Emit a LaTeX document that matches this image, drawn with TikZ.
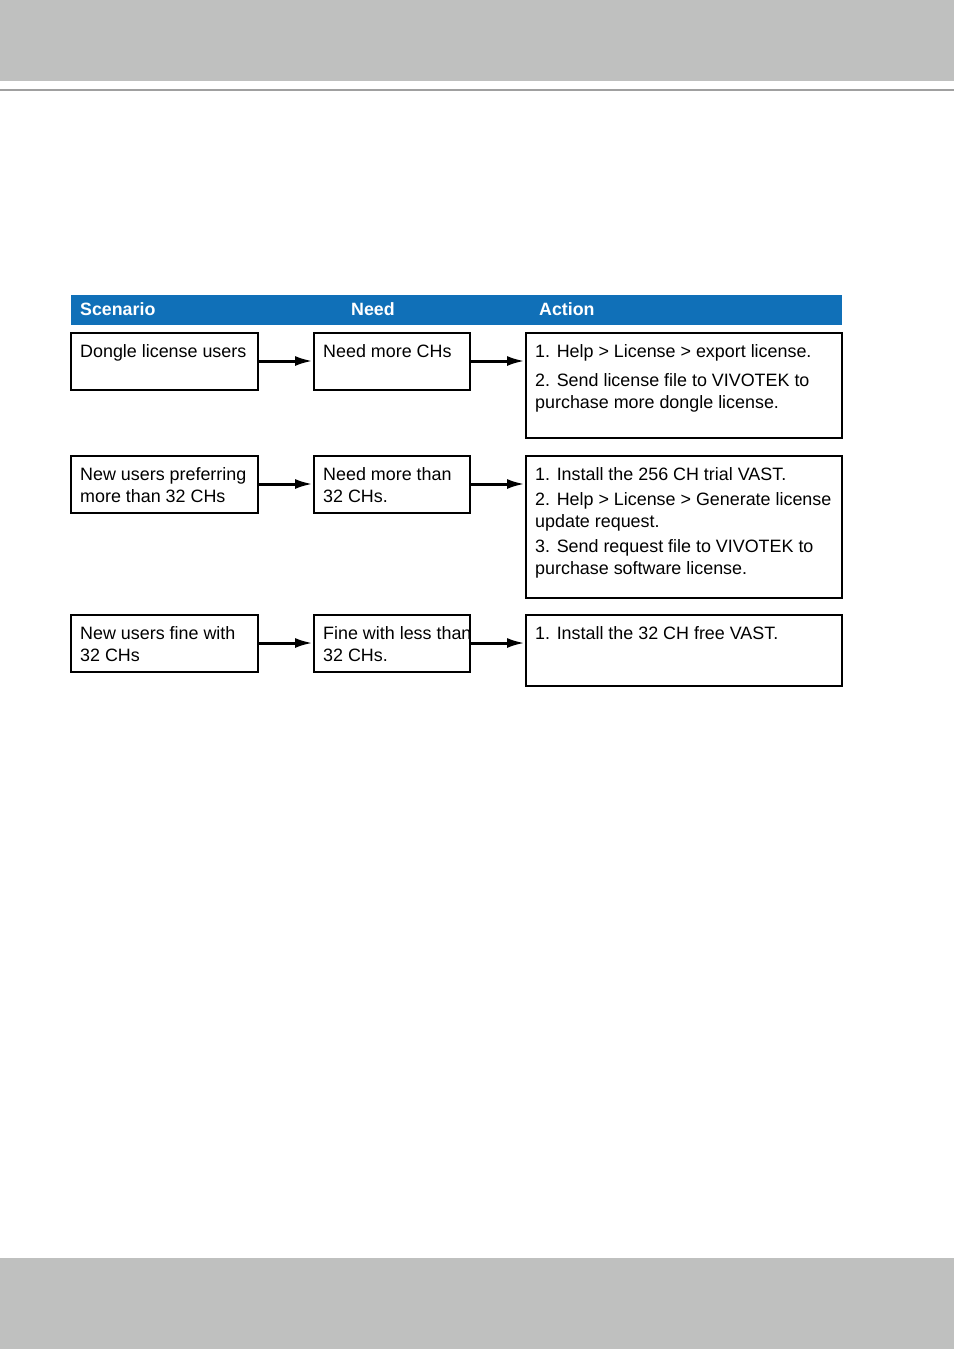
\documentclass[tikz,border=0pt]{standalone}
\usepackage{fontspec}
\setmainfont{Liberation Sans}
\usetikzlibrary{arrows.meta}
\definecolor{barGray}{HTML}{BFC0BF}
\definecolor{lineGray}{HTML}{A0A0A0}
\definecolor{headBlue}{HTML}{1070B8}
\tikzset{
  cell/.style={draw=black, line width=1.5pt, inner sep=0pt, outer sep=0pt},
  txt/.style={anchor=base west, inner sep=0pt, font=\fontsize{17.9}{22}\selectfont},
  hd/.style={anchor=base west, inner sep=0pt, text=white, font=\fontsize{17.8}{22}\selectfont\bfseries},
  link/.style={draw=black, line width=3pt, -{Latex[length=18pt,width=10pt]}, shorten >=1pt}
}
\begin{document}
\begin{tikzpicture}[x=1pt,y=-1pt]
\useasboundingbox (0,0) rectangle (954,1349);
% page bars
\fill[barGray] (0,0) rectangle (954,81);
\fill[lineGray] (0,89) rectangle (954,91);
\fill[barGray] (0,1258) rectangle (954,1349);
% header
\fill[headBlue] (71,295) rectangle (842,325);
\node[hd] (hS) at (80,315) {Scenario};
\node[hd] (hN) at (351,315) {Need};
\node[hd] (hA) at (539,315) {Action};
% row 1
\path[cell] (71,333) rectangle (258,390) node[pos=0.5] (s1) {};
\path[cell] (314,333) rectangle (470,390) node[pos=0.5] (n1) {};
\path[cell] (526,333) rectangle (842,438) node[pos=0.5] (a1) {};
\coordinate (s1e) at (258,361); \coordinate (n1w) at (314,361);
\coordinate (n1e) at (470,361); \coordinate (a1w) at (526,361);
\node[txt] (t1) at (80,357) {Dongle license users};
\node[txt] (t2) at (323,357) {Need more CHs};
\node[txt] (t3) at (535,357) {1. Help > License > export license.};
\node[txt] (t4) at (535,386) {2. Send license file to VIVOTEK to};
\node[txt] (t5) at (535,408) {purchase more dongle license.};
% row 2
\path[cell] (71,456) rectangle (258,513) node[pos=0.5] (s2) {};
\path[cell] (314,456) rectangle (470,513) node[pos=0.5] (n2) {};
\path[cell] (526,456) rectangle (842,598) node[pos=0.5] (a2) {};
\coordinate (s2e) at (258,484); \coordinate (n2w) at (314,484);
\coordinate (n2e) at (470,484); \coordinate (a2w) at (526,484);
\node[txt] (u1) at (80,480) {New users preferring};
\node[txt] (u2) at (80,502) {more than 32 CHs};
\node[txt] (u3) at (323,480) {Need more than};
\node[txt] (u4) at (323,502) {32 CHs.};
\node[txt] (u5) at (535,480) {1. Install the 256 CH trial VAST.};
\node[txt] (u6) at (535,505) {2. Help > License > Generate license};
\node[txt] (u7) at (535,527) {update request.};
\node[txt] (u8) at (535,552) {3. Send request file to VIVOTEK to};
\node[txt] (u9) at (535,574) {purchase software license.};
% row 3
\path[cell] (71,615) rectangle (258,672) node[pos=0.5] (s3) {};
\path[cell] (314,615) rectangle (470,672) node[pos=0.5] (n3) {};
\path[cell] (526,615) rectangle (842,686) node[pos=0.5] (a3) {};
\coordinate (s3e) at (258,643); \coordinate (n3w) at (314,643);
\coordinate (n3e) at (470,643); \coordinate (a3w) at (526,643);
\node[txt] (v1) at (80,639) {New users fine with};
\node[txt] (v2) at (80,661) {32 CHs};
\node[txt] (v3) at (323,639) {Fine with less than};
\node[txt] (v4) at (323,661) {32 CHs.};
\node[txt] (v5) at (535,639) {1. Install the 32 CH free VAST.};
% connectors
\draw[link] (s1e) -- (n1w);
\draw[link] (n1e) -- (a1w);
\draw[link] (s2e) -- (n2w);
\draw[link] (n2e) -- (a2w);
\draw[link] (s3e) -- (n3w);
\draw[link] (n3e) -- (a3w);
\end{tikzpicture}
\end{document}
